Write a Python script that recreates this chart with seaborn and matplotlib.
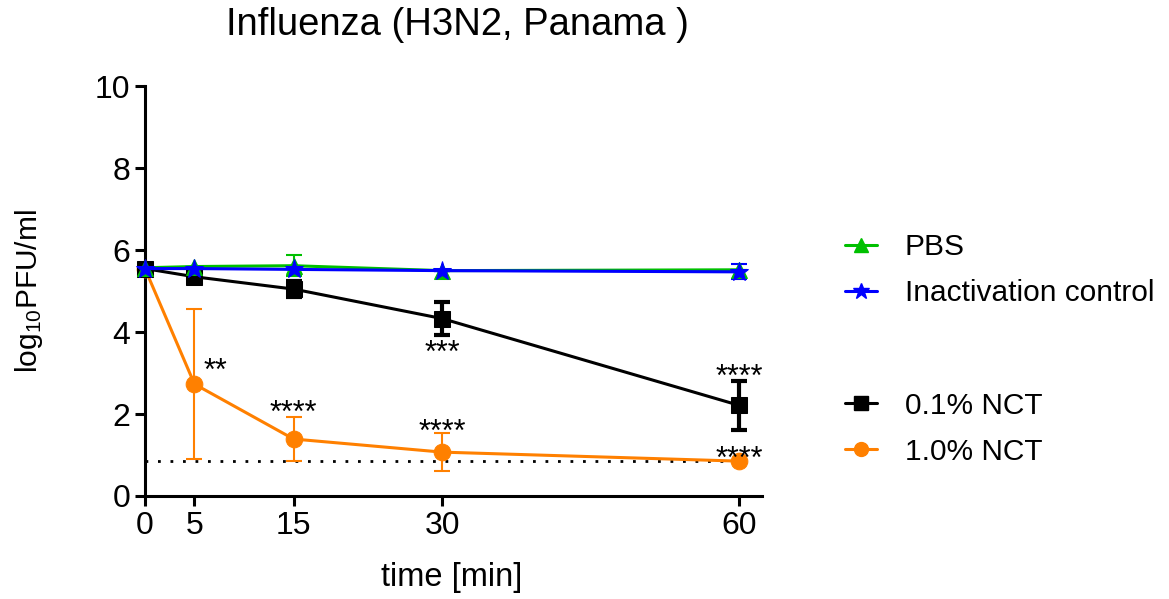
import numpy as np
import pandas as pd
import seaborn as sns
import matplotlib.pyplot as plt
from matplotlib.lines import Line2D

# data
time_min = [0, 5, 15, 30, 60]
pbs = [5.57, 5.60, 5.62, 5.50, 5.52]
pbs_err = [0.0, 0.0, 0.25, 0.0, 0.0]
inact = [5.55, 5.55, 5.53, 5.50, 5.47]
inact_err = [0.0, 0.0, 0.0, 0.0, 0.18]
nct01 = [5.55, 5.35, 5.05, 4.33, 2.21]
nct01_err = [0.0, 0.0, 0.2, 0.4, 0.6]
nct10 = [5.55, 2.73, 1.39, 1.07, 0.85]
nct10_err = [0.0, 1.83, 0.54, 0.47, 0.0]
detection_limit = 0.85

sns.set_theme(style="ticks")
plt.rcParams['font.family'] = ['Liberation Sans', 'DejaVu Sans']
plt.rcParams['mathtext.fontset'] = 'custom'
plt.rcParams['mathtext.rm'] = 'Liberation Sans'
plt.rcParams['mathtext.it'] = 'Liberation Sans:italic'
plt.rcParams['text.color'] = 'black'
plt.rcParams['axes.labelcolor'] = 'black'
plt.rcParams['xtick.color'] = 'black'
plt.rcParams['ytick.color'] = 'black'

fig = plt.figure(figsize=(11.69, 5.99), dpi=100)
ax = fig.add_axes([0.124, 0.172, 0.528, 0.684])

df = pd.DataFrame({'time': time_min * 4,
                   'value': pbs + inact + nct01 + nct10,
                   'group': ['PBS'] * 5 + ['Inactivation control'] * 5
                            + ['0.1% NCT'] * 5 + ['1.0% NCT'] * 5})
colors = {'PBS': '#00c000', 'Inactivation control': '#0000ff',
          '0.1% NCT': '#000000', '1.0% NCT': '#ff8000'}
markers = {'PBS': '^', 'Inactivation control': '*',
           '0.1% NCT': 's', '1.0% NCT': 'o'}
errs = {'PBS': pbs_err, 'Inactivation control': inact_err,
        '0.1% NCT': nct01_err, '1.0% NCT': nct10_err}
order = ['1.0% NCT', '0.1% NCT', 'PBS', 'Inactivation control']

# dotted detection limit
ax.plot([0, 60], [detection_limit, detection_limit], ls=(0, (1, 3.5)),
        color='black', lw=2, zorder=1)

for g in order:
    sub = df[df.group == g]
    ew = 3 if g == '0.1% NCT' else 1.5
    ax.errorbar(sub.time, sub.value, yerr=errs[g], fmt='none',
                ecolor=colors[g], elinewidth=ew, capsize=6, capthick=ew,
                zorder=2, clip_on=False)
    sns.lineplot(x=sub.time, y=sub.value, ax=ax, color=colors[g],
                 marker=markers[g], markersize=12 if g != 'Inactivation control' else 14,
                 markeredgecolor=colors[g], lw=2.2, zorder=3, clip_on=False,
                 legend=False)

ax.set_xlim(0, 62.3)
ax.set_ylim(0, 10)
ax.set_xticks(time_min)
ax.set_yticks([0, 2, 4, 6, 8, 10])
ax.tick_params(labelsize=23, width=2.2, length=7, color='black')
for s in ['left', 'bottom']:
    ax.spines[s].set_linewidth(2.2)
    ax.spines[s].set_color('black')
sns.despine(ax=ax)

ax.set_xlabel('time [min]', fontsize=23.5)
ax.xaxis.set_label_coords(0.4976, -0.198)
ax.xaxis.label.set_va('center')
ax.set_ylabel('log$_{10}$PFU/ml', fontsize=21.5)
ax.yaxis.set_label_coords(-0.188, 0.5)
ax.yaxis.label.set_va('center')
fig.text(0.391, 0.958, 'Influenza (H3N2, Panama )', fontsize=27.5,
         ha='center', va='center')

# significance stars (x, baseline y, text, alignment)
stars = [(5.9, 2.83, '**', 'left'), (15, 1.80, '****', 'center'),
         (30, 3.27, '***', 'center'), (30, 1.34, '****', 'center'),
         (60, 2.68, '****', 'center'), (60, 0.68, '****', 'center')]
for x, y, t, ha in stars:
    ax.text(x, y, t, fontsize=22, ha=ha, va='baseline', clip_on=False)

def handle(g):
    return Line2D([], [], color=colors[g], marker=markers[g], lw=2.2,
                  markersize=10 if g != 'Inactivation control' else 12)

leg_kw = dict(loc='center left', frameon=False, fontsize=21.5,
              handlelength=1.05, labelspacing=0.6, handletextpad=0.95)
leg1 = fig.legend([handle('PBS'), handle('Inactivation control')],
                  ['PBS', 'Inactivation control'],
                  bbox_to_anchor=(0.7, 0.549), **leg_kw)
leg2 = fig.legend([handle('0.1% NCT'), handle('1.0% NCT')],
                  ['0.1% NCT', '1.0% NCT'],
                  bbox_to_anchor=(0.7, 0.284), **leg_kw)

fig.savefig('out.png', dpi=100)
